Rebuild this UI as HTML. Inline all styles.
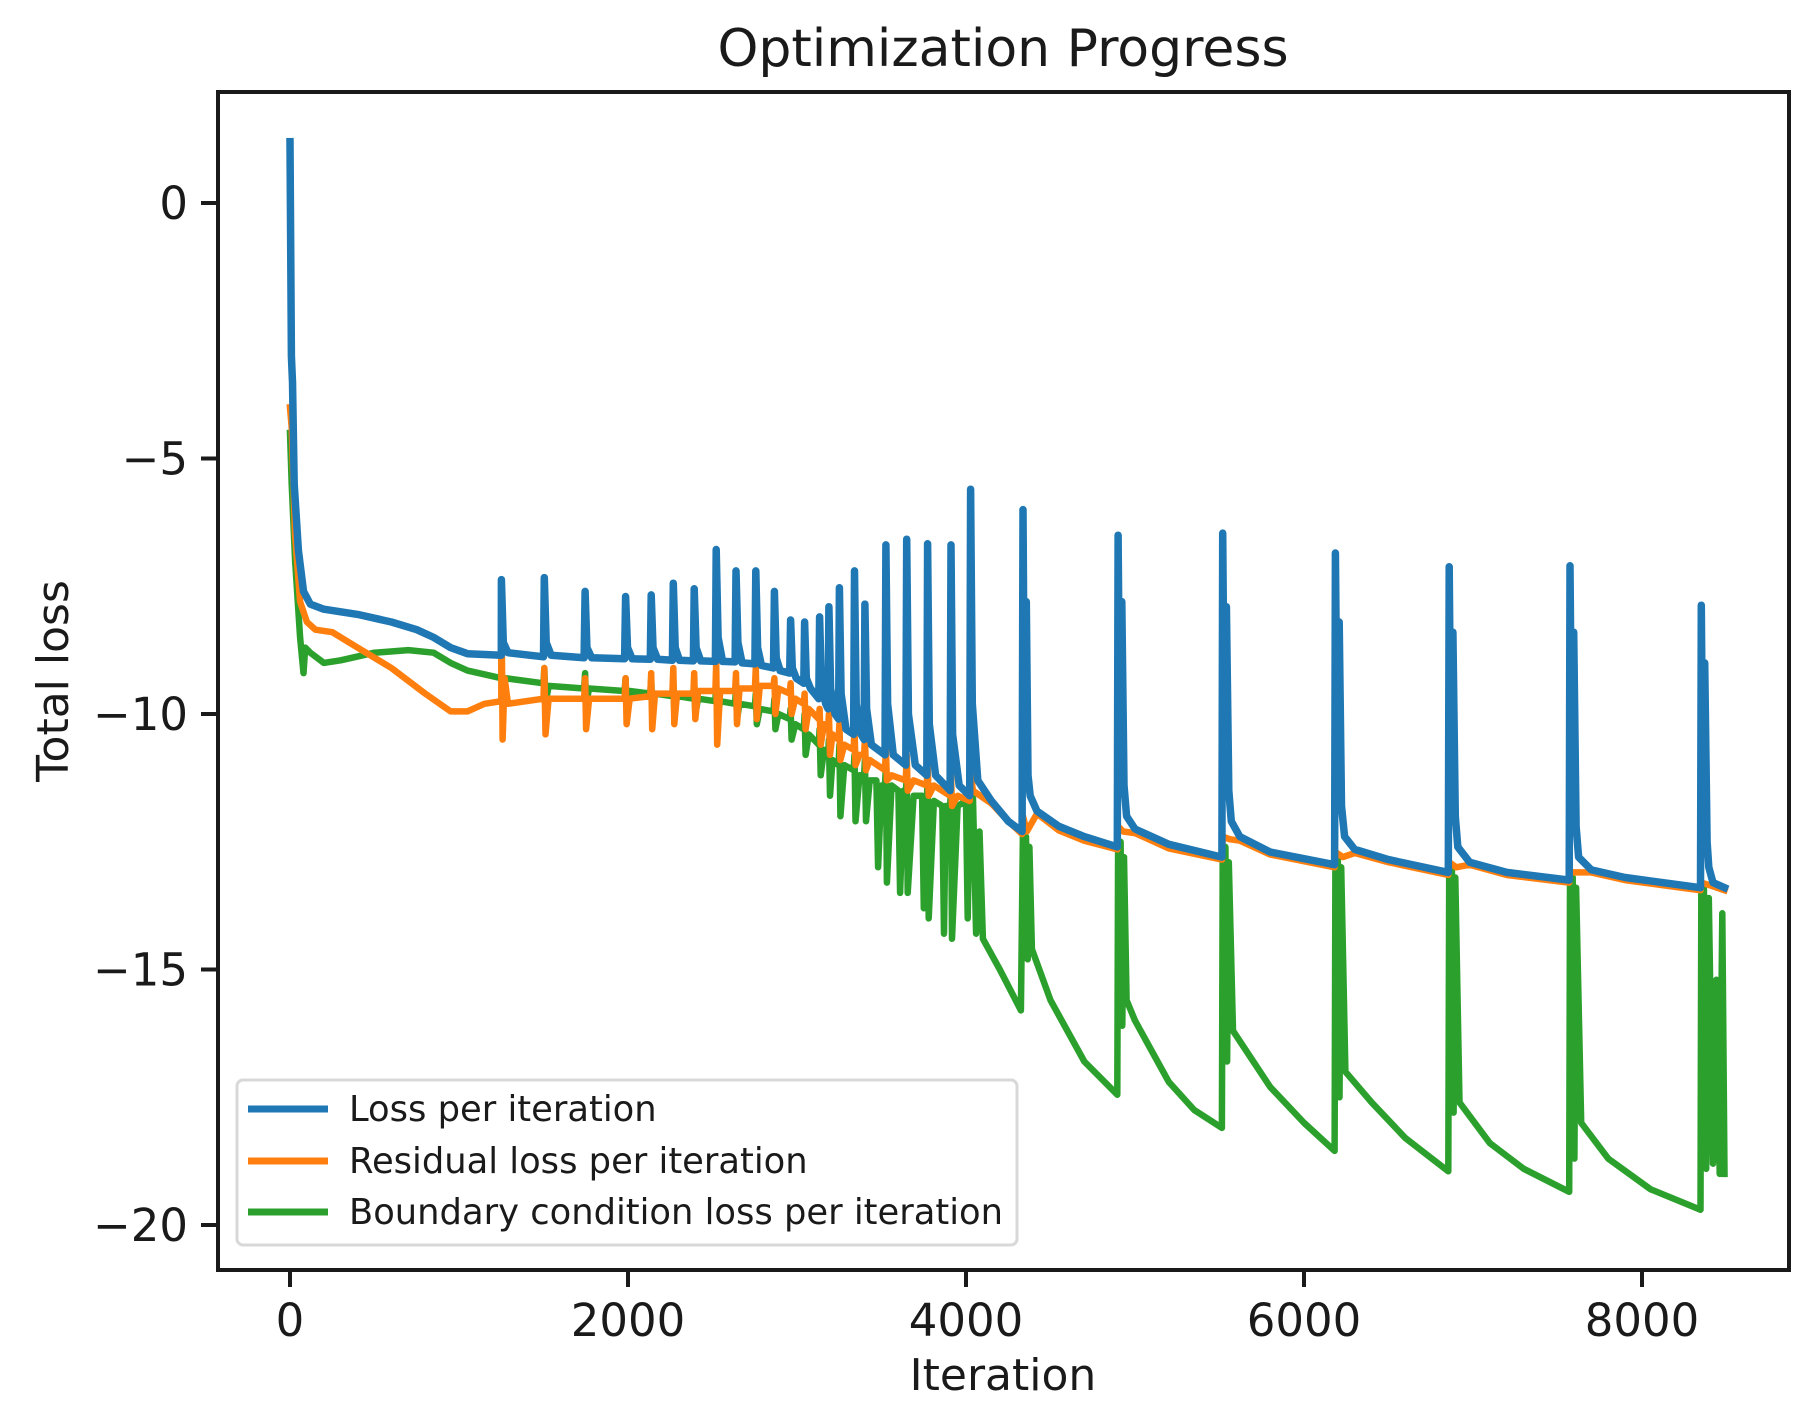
<!DOCTYPE html>
<html><head><meta charset="utf-8">
<style>
html,body{margin:0;padding:0;background:#fff;}
svg text{font-family:"DejaVu Sans","Liberation Sans",sans-serif;fill:#1a1a1a;}
</style></head>
<body>
<svg id="chart" width="1819" height="1421" viewBox="0 0 1819 1421" xmlns="http://www.w3.org/2000/svg">
<rect width="1819" height="1421" fill="#fff"/>
<text x="1003" y="66" font-size="52" text-anchor="middle">Optimization Progress</text>
<g id="plot"></g>
<rect x="218" y="92" width="1571" height="1178" fill="none" stroke="#1a1a1a" stroke-width="4"/>
<g id="axes"></g>
<text x="1003" y="1390" font-size="44" text-anchor="middle">Iteration</text>
<text transform="translate(68,681) rotate(-90)" font-size="44" text-anchor="middle">Total loss</text>
<g id="legend">
<rect x="237" y="1080" width="780" height="165" rx="6" fill="#fff" fill-opacity="0.8" stroke="#d8d8d8" stroke-width="3"/>
<line x1="248" y1="1109" x2="328" y2="1109" stroke="#1f77b4" stroke-width="7"/>
<text x="349" y="1121" font-size="35.3">Loss per iteration</text>
<line x1="248" y1="1161" x2="328" y2="1161" stroke="#ff7f0e" stroke-width="7"/>
<text x="349" y="1173" font-size="35.3">Residual loss per iteration</text>
<line x1="248" y1="1212" x2="328" y2="1212" stroke="#2ca02c" stroke-width="7"/>
<text x="349" y="1224" font-size="35.3">Boundary condition loss per iteration</text>
</g>
</svg>
<script>
const xTicks=[0,2000,4000,6000,8000];
const xTickLabels=["0","2000","4000","6000","8000"];
const yTicks=[0,-5,-10,-15,-20];
const yTickLabels=["0","\u22125","\u221210","\u221215","\u221220"];
const lossIter=[0,8,15,25,50,80,120,200,400,600,750,850,950,1050,1250,1251,1262,1290,1500,1505,1516,1545,1740,1746,1757,1785,1980,1986,1997,2025,2132,2137,2148,2175,2263,2268,2279,2305,2387,2392,2403,2430,2517,2522,2533,2560,2634,2639,2650,2675,2751,2756,2767,2790,2861,2866,2877,2900,2957,2962,2972,2995,3040,3045,3055,3080,3129,3134,3144,3170,3184,3189,3199,3225,3246,3251,3261,3290,3335,3340,3350,3380,3397,3402,3412,3440,3521,3526,3536,3570,3644,3649,3659,3700,3768,3773,3783,3820,3906,3911,3921,3960,4022,4027,4037,4070,4150,4250,4332,4337,4347,4357,4367,4380,4420,4550,4700,4895,4900,4912,4922,4935,4950,5000,5200,5514,5519,5531,5541,5555,5570,5620,5800,6181,6186,6198,6208,6222,6240,6300,6500,6854,6859,6871,6881,6895,6910,6980,7200,7569,7574,7586,7596,7610,7625,7700,7900,8346,8351,8361,8371,8385,8395,8420,8488];
const lossVal=[1.2,-3,-3.5,-5.5,-6.8,-7.6,-7.85,-7.95,-8.05,-8.2,-8.35,-8.5,-8.7,-8.82,-8.85,-7.37,-8.6,-8.8,-8.88,-7.33,-8.6,-8.85,-8.9,-7.6,-8.7,-8.9,-8.92,-7.7,-8.7,-8.92,-8.93,-7.67,-8.7,-8.93,-8.95,-7.44,-8.7,-8.95,-8.96,-7.55,-8.7,-8.96,-8.97,-6.78,-8.5,-8.97,-8.98,-7.2,-8.6,-9.0,-9.02,-7.2,-8.7,-9.05,-9.1,-7.6,-8.9,-9.15,-9.2,-8.16,-9.1,-9.3,-9.4,-8.2,-9.3,-9.5,-9.7,-8.1,-9.4,-9.8,-9.9,-7.9,-9.5,-10.0,-10.1,-7.53,-9.6,-10.3,-10.4,-7.2,-9.8,-10.4,-10.5,-7.85,-9.9,-10.6,-10.8,-6.69,-9.8,-10.8,-11.0,-6.58,-10.0,-11.0,-11.2,-6.67,-10.2,-11.2,-11.5,-6.69,-10.4,-11.4,-11.6,-5.6,-9.8,-11.3,-11.7,-12.1,-12.3,-6.0,-11.0,-7.8,-11.2,-11.6,-11.9,-12.2,-12.4,-12.6,-6.5,-11.2,-7.8,-11.4,-12.0,-12.25,-12.55,-12.8,-6.46,-11.2,-7.9,-11.5,-12.1,-12.4,-12.7,-12.95,-6.85,-11.4,-8.2,-11.8,-12.4,-12.65,-12.85,-13.1,-7.12,-11.6,-8.4,-12.0,-12.6,-12.9,-13.1,-13.25,-7.1,-11.7,-8.4,-12.2,-12.8,-13.05,-13.2,-13.4,-7.87,-12.0,-9.0,-12.5,-13.0,-13.3,-13.4];
const resIter=[0,10,30,60,100,150,250,400,600,800,950,1050,1150,1250,1251,1258,1270,1290,1500,1505,1512,1530,1740,1746,1752,1770,1980,1986,1992,2010,2132,2137,2143,2160,2263,2268,2274,2290,2387,2392,2398,2415,2517,2522,2528,2545,2634,2639,2645,2660,2751,2756,2762,2780,2861,2866,2872,2890,2957,2962,2968,2990,3040,3045,3051,3070,3129,3134,3140,3160,3184,3189,3195,3210,3246,3251,3257,3280,3335,3340,3346,3370,3397,3402,3408,3430,3521,3526,3532,3560,3644,3649,3655,3690,3768,3773,3779,3810,3906,3911,3917,3950,4022,4027,4040,4150,4250,4332,4337,4360,4420,4550,4700,4895,4900,4930,5000,5200,5514,5519,5560,5620,5800,6181,6186,6230,6300,6500,6854,6859,6900,6980,7200,7569,7574,7620,7700,7900,8346,8351,8400,8488];
const resVal=[-4,-4.4,-6.5,-7.8,-8.2,-8.35,-8.4,-8.7,-9.1,-9.6,-9.95,-9.95,-9.8,-9.75,-7.6,-10.5,-9.3,-9.8,-9.7,-9.1,-10.4,-9.7,-9.7,-9.3,-10.3,-9.7,-9.7,-9.3,-10.2,-9.7,-9.65,-9.2,-10.3,-9.6,-9.6,-9.1,-10.2,-9.6,-9.6,-9.2,-10.1,-9.55,-9.55,-9.0,-10.6,-9.55,-9.55,-9.2,-10.2,-9.5,-9.5,-9.1,-10.1,-9.45,-9.45,-9.3,-10.0,-9.5,-9.6,-9.4,-10.0,-9.7,-9.8,-9.6,-10.3,-9.9,-10.1,-9.9,-10.6,-10.2,-10.3,-10.0,-10.8,-10.4,-10.5,-10.2,-10.9,-10.6,-10.7,-10.3,-11.0,-10.8,-10.8,-10.5,-11.1,-10.9,-11.1,-10.7,-11.3,-11.2,-11.3,-10.8,-11.5,-11.3,-11.4,-11.0,-11.6,-11.4,-11.6,-11.2,-11.8,-11.6,-11.7,-11.1,-11.5,-11.75,-12.1,-12.35,-12.0,-12.3,-11.95,-12.28,-12.48,-12.65,-12.2,-12.3,-12.33,-12.63,-12.85,-12.4,-12.45,-12.48,-12.75,-13.0,-12.7,-12.8,-12.72,-12.9,-13.15,-12.9,-13.0,-12.95,-13.15,-13.3,-13.1,-13.1,-13.1,-13.25,-13.45,-13.3,-13.35,-13.45];
const bcIter=[0,10,30,60,80,90,120,200,300,500,700,850,950,1050,1250,1251,1258,1275,1500,1505,1512,1530,1740,1746,1752,1770,1980,1986,1992,2010,2132,2137,2143,2160,2263,2268,2274,2290,2387,2392,2398,2415,2517,2522,2528,2545,2634,2639,2645,2660,2751,2756,2762,2780,2861,2866,2872,2890,2957,2962,2968,2990,3040,3045,3051,3070,3129,3134,3140,3160,3184,3189,3195,3210,3246,3251,3257,3280,3335,3340,3346,3370,3397,3402,3408,3430,3470,3480,3500,3521,3526,3532,3560,3600,3610,3630,3644,3649,3655,3690,3740,3750,3760,3768,3773,3779,3810,3860,3870,3880,3906,3911,3917,3950,4000,4010,4022,4027,4040,4060,4080,4100,4200,4325,4337,4345,4355,4365,4375,4390,4500,4700,4895,4900,4905,4915,4925,4935,4950,5000,5200,5350,5514,5519,5524,5535,5545,5555,5580,5800,6000,6181,6186,6191,6200,6210,6220,6245,6400,6600,6854,6859,6864,6875,6885,6895,6920,7100,7300,7569,7574,7579,7590,7600,7610,7640,7800,8050,8346,8351,8356,8366,8380,8395,8420,8440,8460,8475,8488];
const bcVal=[-4.5,-5.5,-7,-8.5,-9.2,-8.7,-8.8,-9.0,-8.95,-8.8,-8.75,-8.8,-9.0,-9.15,-9.3,-8.9,-9.7,-9.3,-9.4,-9.1,-9.8,-9.45,-9.5,-9.2,-9.8,-9.5,-9.55,-9.3,-9.9,-9.55,-9.6,-9.3,-9.95,-9.6,-9.65,-9.3,-10.0,-9.65,-9.7,-9.4,-10.0,-9.7,-9.75,-9.4,-10.1,-9.75,-9.8,-9.5,-10.1,-9.8,-9.85,-9.6,-10.2,-9.9,-9.95,-9.7,-10.3,-10.0,-10.1,-9.9,-10.5,-10.2,-10.3,-10.0,-10.8,-10.4,-10.6,-10.3,-11.2,-10.7,-10.8,-10.5,-11.6,-10.9,-11.0,-10.6,-12.0,-11.0,-11.1,-10.8,-12.1,-11.2,-11.2,-10.9,-12.1,-11.3,-11.3,-13.0,-11.4,-11.4,-11.0,-13.3,-11.4,-11.5,-13.5,-11.5,-11.6,-11.2,-13.5,-11.6,-11.6,-13.8,-11.7,-11.7,-11.3,-14.0,-11.7,-11.8,-14.3,-11.8,-11.8,-11.5,-14.4,-11.8,-11.7,-14.0,-11.7,-11.2,-11.5,-14.3,-12.3,-14.4,-15.0,-15.8,-12.2,-13.5,-12.4,-14.8,-12.6,-14.6,-15.6,-16.8,-17.45,-12.6,-15.0,-12.5,-16.1,-12.8,-15.6,-16.0,-17.2,-17.75,-18.1,-12.8,-14.8,-12.6,-16.8,-12.9,-16.2,-17.3,-18.0,-18.55,-12.9,-15.2,-12.8,-17.5,-13.0,-17.0,-17.6,-18.3,-18.95,-13.1,-16.8,-13.0,-17.8,-13.2,-17.6,-18.4,-18.9,-19.35,-13.3,-17.0,-13.2,-18.7,-13.4,-18.0,-18.7,-19.3,-19.7,-13.5,-17.0,-13.4,-18.9,-13.6,-18.8,-15.2,-19.0,-13.9,-19.0];

const NS="http://www.w3.org/2000/svg";
function xScale(v){return 290+v*(338/2000);}
function yScale(v){return 203-v*51.1;}
const plot=document.getElementById('plot');
const axes=document.getElementById('axes');
const clip=document.createElementNS(NS,'clipPath');clip.setAttribute('id','clipPlot');
const cr=document.createElementNS(NS,'rect');cr.setAttribute('x',218);cr.setAttribute('y',92);cr.setAttribute('width',1571);cr.setAttribute('height',1178);
clip.appendChild(cr);plot.appendChild(clip);
function drawLine(xs,ys,color,name,w){
  const p=document.createElementNS(NS,'polyline');
  p.setAttribute('points',xs.map((x,i)=>xScale(x).toFixed(1)+','+yScale(ys[i]).toFixed(1)).join(' '));
  p.setAttribute('fill','none');p.setAttribute('stroke',color);p.setAttribute('stroke-width',w);
  p.setAttribute('stroke-linejoin','round');p.setAttribute('stroke-linecap','square');
  p.setAttribute('clip-path','url(#clipPlot)');
  
  
  plot.appendChild(p);
}
drawLine(bcIter,bcVal,'#2ca02c','boundary-loss-line',6.5);
drawLine(resIter,resVal,'#ff7f0e','residual-loss-line',6.5);
drawLine(lossIter,lossVal,'#1f77b4','total-loss-line',7.5);
xTicks.forEach((t,i)=>{
  const l=document.createElementNS(NS,'line');
  l.setAttribute('x1',xScale(t));l.setAttribute('x2',xScale(t));l.setAttribute('y1',1270);l.setAttribute('y2',1287);
  l.setAttribute('stroke','#1a1a1a');l.setAttribute('stroke-width',4);
  
  
  axes.appendChild(l);
  const tx=document.createElementNS(NS,'text');
  tx.setAttribute('x',xScale(t));tx.setAttribute('y',1336);tx.setAttribute('font-size','45');tx.setAttribute('text-anchor','middle');
  tx.textContent=xTickLabels[i];
  
  
  axes.appendChild(tx);
});
yTicks.forEach((t,i)=>{
  const l=document.createElementNS(NS,'line');
  l.setAttribute('x1',201);l.setAttribute('x2',218);l.setAttribute('y1',yScale(t));l.setAttribute('y2',yScale(t));
  l.setAttribute('stroke','#1a1a1a');l.setAttribute('stroke-width',4);
  
  
  axes.appendChild(l);
  const tx=document.createElementNS(NS,'text');
  tx.setAttribute('x',188);tx.setAttribute('y',yScale(t)+16);tx.setAttribute('font-size','45');tx.setAttribute('text-anchor','end');
  tx.textContent=yTickLabels[i];
  
  
  axes.appendChild(tx);
});
</script>
</body></html>
